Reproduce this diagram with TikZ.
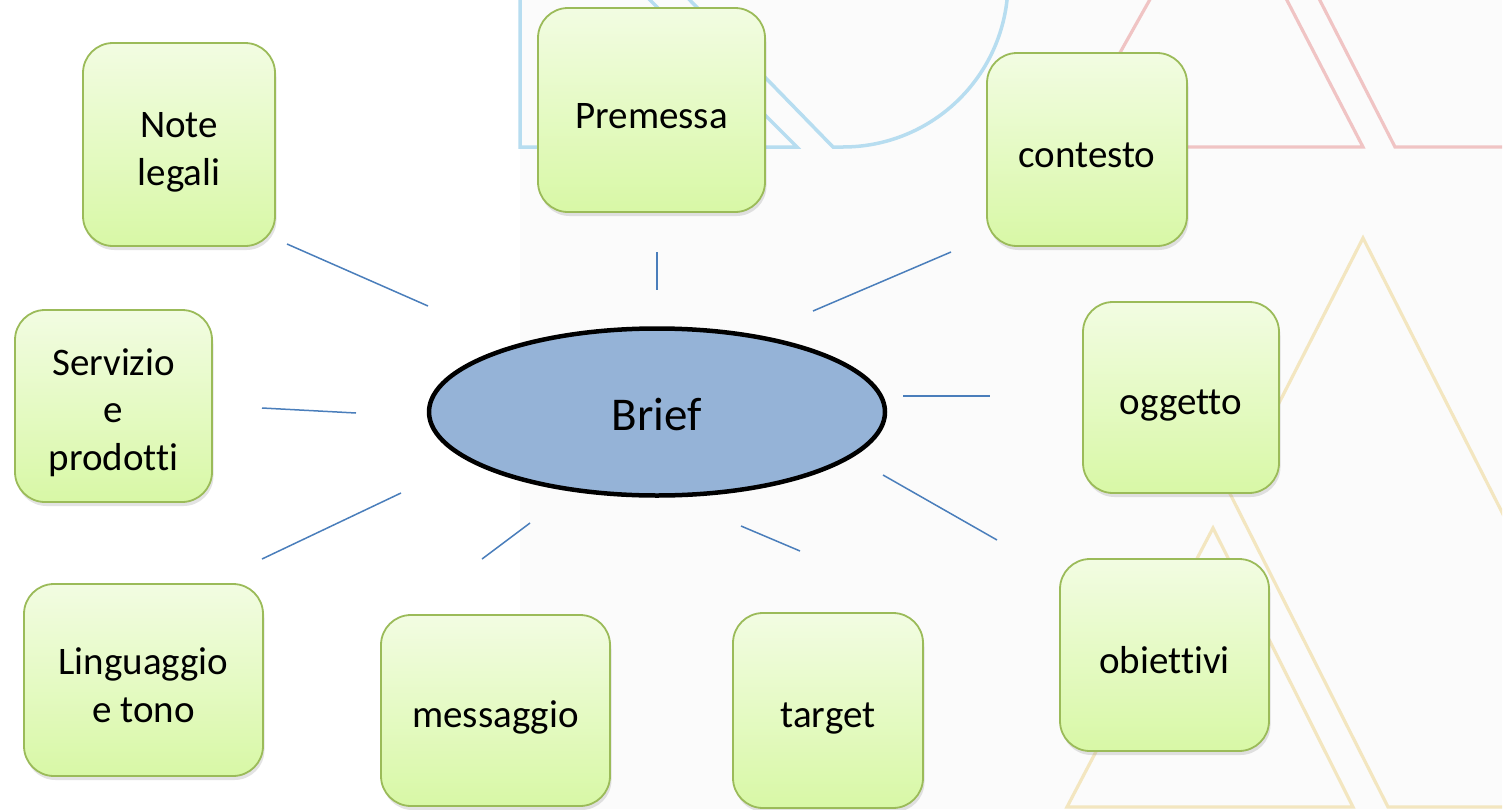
\documentclass[tikz,border=0pt]{standalone}
\usepackage{fontspec}
\setmainfont[Ligatures=NoCommon]{Carlito}
\usetikzlibrary{shadows,shapes.geometric}
\definecolor{bgpanel}{RGB}{251,251,251}
\definecolor{boxline}{RGB}{155,187,89}
\definecolor{boxtop}{RGB}{242,252,226}
\definecolor{boxbot}{RGB}{216,248,166}
\definecolor{brieffill}{RGB}{149,179,215}
\definecolor{connc}{RGB}{74,126,187}
\definecolor{decoblue}{RGB}{183,221,240}
\definecolor{decopink}{RGB}{240,196,196}
\definecolor{decoyel}{RGB}{243,230,192}
\newcommand{\ls}{\rule[-0.09em]{0pt}{1.12em}}
\newcommand{\lsb}{\rule[-0.14em]{0pt}{1.07em}}
\tikzset{
  topicbox/.style={rectangle, rounded corners=30pt, draw=boxline, line width=1.8pt,
    top color=boxtop, bottom color=boxbot, inner sep=0pt, align=center,
    font=\fontsize{39}{47.6}\selectfont,
    drop shadow={shadow xshift=1.5pt, shadow yshift=-4pt, opacity=0.22}},
  conn/.style={draw=connc, line width=1.5pt},
  bdeco/.style={draw=decoblue, line width=3.5pt, line join=miter},
  pdeco/.style={draw=decopink, line width=3.2pt, line join=miter},
  ydeco/.style={draw=decoyel, line width=3.2pt, line join=miter}
}
\begin{document}
\begin{tikzpicture}[x=1pt,y=-1pt]
\useasboundingbox (0,0) rectangle (1507,809);
\fill[white] (0,0) rectangle (1507,809);
\fill[bgpanel] (520,0) rectangle (1502,809);
\begin{scope}
\clip (517,0) rectangle (1502,809);
% blue decoration
\draw[bdeco] (520,-10) -- (520,147) -- (797,147) -- (640,-10);
\draw[bdeco] (680,-10) -- (833,147) -- (843,147) arc[start angle=90, end angle=-12, radius=165];
% pink decoration
\draw[pdeco] (1067,147) -- (1221,-127) -- (1363,147) -- cycle;
\draw[pdeco] (1289,-60) -- (1395,147) -- (1512,147);
% yellow decoration
\draw[ydeco] (1512,532) -- (1363,238) -- (1250,460);
\draw[ydeco] (1213,460) -- (1388,807) -- (1512,807);
\draw[ydeco] (1067,807) -- (1213,528) -- (1353,807) -- cycle;
\end{scope}

% connectors
\coordinate (n1) at (287,244);  \coordinate (n2) at (428,306);
\coordinate (p1) at (657,252);  \coordinate (p2) at (657,290);
\coordinate (c1) at (951,252);  \coordinate (c2) at (813,311);
\coordinate (o1) at (903,396);  \coordinate (o2) at (990,396);
\coordinate (b1) at (883,475);  \coordinate (b2) at (997,540);
\coordinate (t1) at (741,526);  \coordinate (t2) at (800,551);
\coordinate (m1) at (530,523);  \coordinate (m2) at (482,559);
\coordinate (l1) at (401,493);  \coordinate (l2) at (262,559);
\coordinate (s1) at (262,408);  \coordinate (s2) at (356,413);
\draw[conn] (n1) -- (n2);
\draw[conn] (p1) -- (p2);
\draw[conn] (c1) -- (c2);
\draw[conn] (o1) -- (o2);
\draw[conn] (b1) -- (b2);
\draw[conn] (t1) -- (t2);
\draw[conn] (m1) -- (m2);
\draw[conn] (l1) -- (l2);
\draw[conn] (s1) -- (s2);

% central ellipse
\node[ellipse, draw=black, line width=4.5pt, fill=brieffill, minimum width=456pt,
  minimum height=167pt, inner sep=0pt, font=\fontsize{47}{57}\selectfont] (brief) at (657,412) {\lsb Brief};

% topic boxes
\node[topicbox, minimum width=192pt, minimum height=203pt] (note) at (179,144.5) {\ls Note\\\ls legali};
\node[topicbox, minimum width=227pt, minimum height=204pt] (prem) at (651.5,110) {\ls Premessa};
\node[topicbox, minimum width=200pt, minimum height=193pt] (cont) at (1087,149.5) {\ls contesto};
\node[topicbox, minimum width=196pt, minimum height=191pt] (ogg) at (1181,397.5) {\ls oggetto};
\node[topicbox, minimum width=209pt, minimum height=192pt] (obi) at (1164.5,655) {\ls obiettivi};
\node[topicbox, minimum width=190pt, minimum height=195pt] (targ) at (828,710.5) {\ls target};
\node[topicbox, minimum width=229pt, minimum height=191pt] (mess) at (495.5,710.5) {\ls messaggio};
\node[topicbox, minimum width=239pt, minimum height=192pt] (ling) at (143.5,680) {\ls Linguaggio\\\ls e tono};
\node[topicbox, minimum width=197pt, minimum height=192pt] (serv) at (113.5,406) {\ls Servizio\\\ls e\\\ls prodotti};
\end{tikzpicture}
\end{document}
